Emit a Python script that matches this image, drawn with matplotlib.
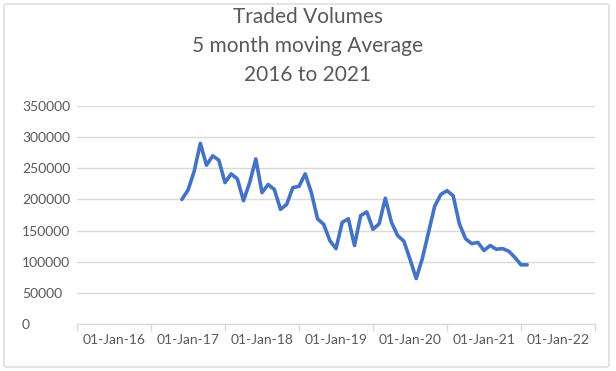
import matplotlib.pyplot as plt
from matplotlib.patches import FancyBboxPatch

# 5 month moving average, monthly points (first point is 17 months after axis start)
start_month = 17
volumes = [200000, 215000, 245000, 290000, 255000, 270000, 263000, 227000, 241000, 233000,
           198000, 227000, 265000, 211000, 224000, 216000, 184000, 192000, 219000, 221000,
           241000, 211000, 169000, 160000, 134000, 121000, 163000, 169000, 126000, 174000,
           180000, 152000, 161000, 202000, 163000, 142000, 133000, 104000, 73000, 105000,
           147000, 189000, 208000, 214000, 206000, 161000, 137000, 129000, 131000, 118000,
           126000, 120000, 121000, 117000, 107000, 95000, 95000]
year_labels = ["01-Jan-16", "01-Jan-17", "01-Jan-18", "01-Jan-19",
               "01-Jan-20", "01-Jan-21", "01-Jan-22"]
y_ticks = [0, 50000, 100000, 150000, 200000, 250000, 300000, 350000]

grey = "#d9d9d9"
text_col = "#595959"
plt.rcParams['font.family'] = ['Lato', 'DejaVu Sans']

fig = plt.figure(figsize=(6.16, 3.71), dpi=100)
ax = fig.add_axes([77/616, 1 - 324/371, (595 - 77)/616, (324 - 106)/371])

months = [start_month + i for i in range(len(volumes))]
ax.plot(months, volumes, color="#4472C4", linewidth=2.6, solid_joinstyle="round",
        solid_capstyle="round")

ax.set_xlim(0, 84)
ax.set_ylim(0, 350000)
ax.set_yticks(y_ticks)
ax.set_yticklabels([str(v) for v in y_ticks])
ax.grid(axis="y", color=grey, linewidth=1)
ax.set_axisbelow(True)

# major ticks = year boundaries, labels sit between them
ax.set_xticks(range(0, 85, 12))
ax.set_xticklabels([])
ax.set_xticks(range(6, 84, 12), minor=True)
ax.set_xticklabels(year_labels, minor=True)
ax.tick_params(axis="x", which="major", length=5, color=grey, width=1)
ax.tick_params(axis="x", which="minor", length=0, pad=7, labelsize=10, labelcolor=text_col)
ax.tick_params(axis="y", length=0, pad=55 * 0.72, labelsize=10, labelcolor=text_col)
for lab in ax.get_yticklabels():
    lab.set_horizontalalignment("left")

for s in ["top", "right", "left"]:
    ax.spines[s].set_visible(False)
ax.spines["bottom"].set_color(grey)

fig.text(0.5, 1 - 17/371, "Traded Volumes", ha="center", va="center", fontsize=15, color=text_col)
fig.text(0.5, 1 - 46/371, "5 month moving Average", ha="center", va="center", fontsize=15, color=text_col)
fig.text(0.5, 1 - 75/371, "2016 to 2021", ha="center", va="center", fontsize=15, color=text_col)

border = FancyBboxPatch((4/616, 4/371), 605/616, 363/371, boxstyle="round,pad=0,rounding_size=0.005",
                        transform=fig.transFigure, fill=False, edgecolor=grey, linewidth=1)
fig.patches.append(border)

fig.savefig("out.png", dpi=100)
